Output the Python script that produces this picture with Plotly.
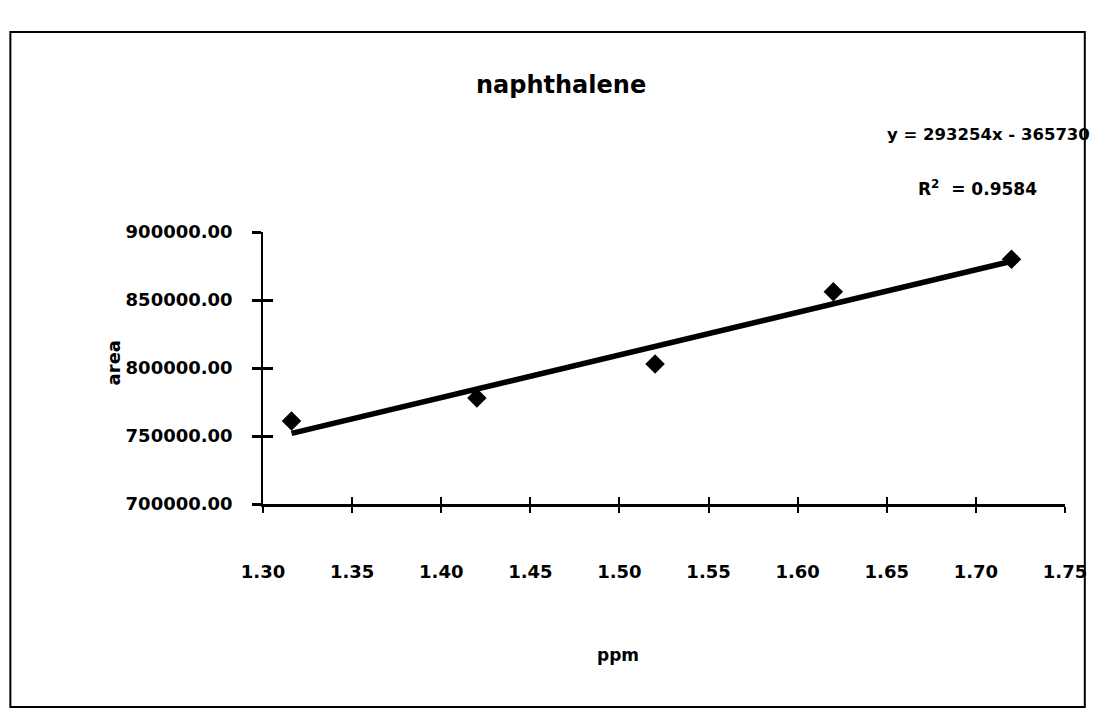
import numpy as np
import plotly.graph_objects as go

# data
ppm = [1.316, 1.420, 1.520, 1.620, 1.720]
area = [761000, 778000, 803000, 856000, 880000]
x_ticks = [1.30, 1.35, 1.40, 1.45, 1.50, 1.55, 1.60, 1.65, 1.70, 1.75]
y_ticks = [700000, 750000, 800000, 850000, 900000]
title = "naphthalene"
equation = "y = 293254x - 365730"
r2_text = "R<sup>2</sup>  = 0.9584"

# linear trendline from the data (least squares, as in the spreadsheet)
slope, intercept = np.polyfit(ppm, area, 1)
fit_x = [min(ppm), max(ppm)]
fit_y = [slope * v + intercept for v in fit_x]

FONT = "DejaVu Sans"

fig = go.Figure()
fig.add_trace(go.Scatter(
    x=fit_x, y=fit_y, mode="lines",
    line=dict(color="black", width=5.5), showlegend=False, hoverinfo="skip",
))
fig.add_trace(go.Scatter(
    x=ppm, y=area, mode="markers",
    marker=dict(symbol="diamond", size=15, color="black"),
    showlegend=False,
))
# overlay axes only to draw the crossing (inside) half of the tick marks
fig.add_trace(go.Scatter(
    x=ppm, y=area, mode="markers", xaxis="x2", yaxis="y2",
    marker=dict(size=1, color="rgba(0,0,0,0)"), showlegend=False, hoverinfo="skip",
))

tickfont = dict(family=FONT, size=18, color="black", weight="bold")


def ann(text, x, y, size, angle=0):
    return dict(text=text, xref="paper", yref="paper", x=x, y=y,
                xanchor="center", yanchor="middle", textangle=angle,
                showarrow=False,
                font=dict(family=FONT, size=size, color="black", weight="bold"))


fig.update_layout(
    width=1091, height=711,
    margin=dict(l=255, r=26, t=224, b=215),
    paper_bgcolor="white", plot_bgcolor="white",
    xaxis=dict(
        range=[1.30, 1.75], tickvals=x_ticks,
        ticktext=[f"{v:.2f}" for v in x_ticks],
        showgrid=False, zeroline=False,
        showline=True, linecolor="black", linewidth=3,
        ticks="outside", ticklen=6, tickwidth=1.5, tickcolor="black",
        tickfont=tickfont, ticklabelstandoff=43,
    ),
    yaxis=dict(
        range=[700000, 900000], tickvals=y_ticks,
        ticktext=[f"{v:.2f}" for v in y_ticks],
        showgrid=False, zeroline=False,
        showline=True, linecolor="black", linewidth=1.5,
        ticks="outside", ticklen=9, tickwidth=2.5, tickcolor="black",
        tickfont=tickfont, ticklabelstandoff=16,
    ),
    xaxis2=dict(
        overlaying="x", matches="x", anchor="y2", side="bottom",
        tickvals=x_ticks, showticklabels=False, showgrid=False, zeroline=False,
        ticks="inside", ticklen=7, tickwidth=1.5, tickcolor="black",
    ),
    yaxis2=dict(
        overlaying="y", matches="y", anchor="x2", side="left",
        tickvals=y_ticks, showticklabels=False, showgrid=False, zeroline=False,
        ticks="inside", ticklen=10, tickwidth=2.5, tickcolor="black",
    ),
    shapes=[dict(
        type="rect", xref="paper", yref="paper",
        x0=-0.315, x1=1.0247, y0=-0.746, y1=1.735,
        line=dict(color="black", width=2),
    )],
    annotations=[
        ann(title, 0.372, 1.54, 24),
        ann(equation, 0.904, 1.357, 16.5),
        ann(r2_text, 0.891, 1.162, 17),
        ann("area", -0.186, 0.52, 18, -90),
        ann("ppm", 0.443, -0.555, 17),
    ],
)

fig.write_html("out.html")
